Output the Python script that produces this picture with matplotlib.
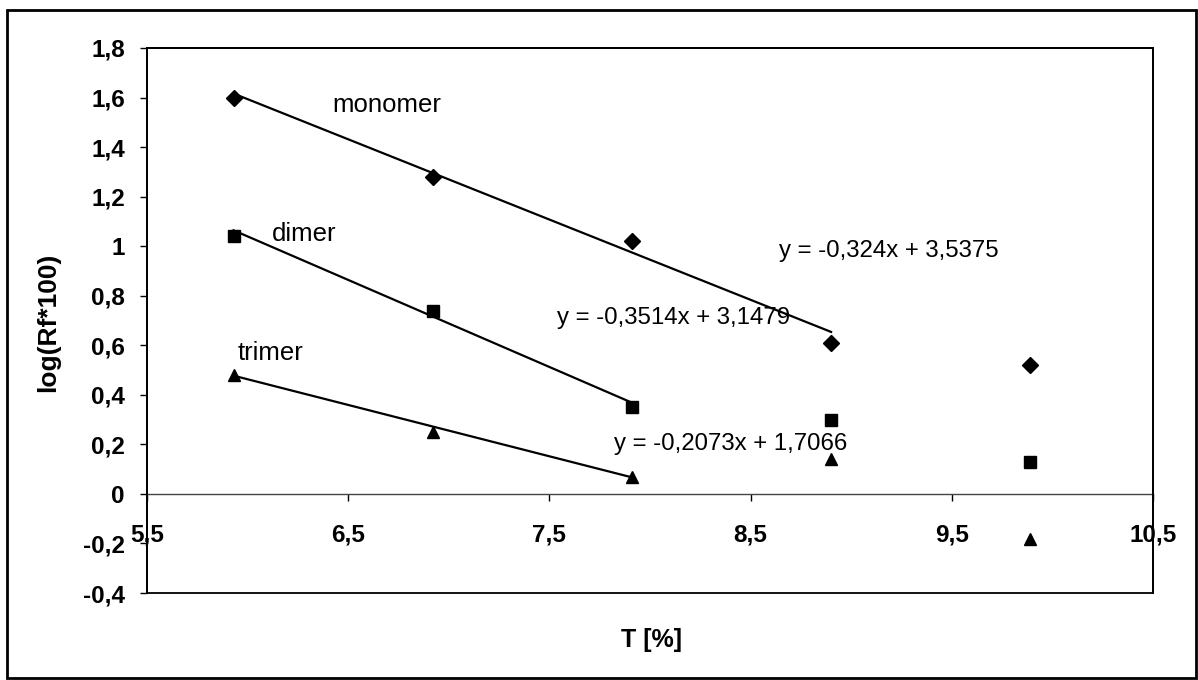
import matplotlib
matplotlib.use("Agg")
import matplotlib.pyplot as plt
from matplotlib.patches import Rectangle
from matplotlib.ticker import FuncFormatter, MultipleLocator

plt.rcParams["font.family"] = ["Liberation Sans", "DejaVu Sans"]

# Gel concentration T [%] and log(Rf*100) per band
t_pct = [5.93, 6.92, 7.91, 8.90, 9.89]
monomer = [1.60, 1.28, 1.02, 0.61, 0.52]
dimer = [1.04, 0.74, 0.35, 0.30, 0.13]
trimer = [0.48, 0.25, 0.07, 0.14, -0.18]

# Linear fits (slope, intercept) and the number of points used for each
fit_monomer = (-0.324, 3.5375, 4)
fit_dimer = (-0.3514, 3.1479, 3)
fit_trimer = (-0.2073, 1.7066, 3)

INK = "black"


def fmt_comma(v, _pos):
    s = f"{v:.1f}".rstrip("0").rstrip(".")
    if s in ("-0", ""):
        s = "0"
    return s.replace(".", ",")


def fit_label(slope, intercept):
    return f"y = {slope:g}x + {intercept:g}".replace(".", ",")


fig = plt.figure(figsize=(11.98, 6.8), dpi=100)
fig.patch.set_facecolor("white")

# Outer chart frame
fig.patches.append(Rectangle((7 / 1198, 2 / 680), 1189 / 1198, 668 / 680,
                             transform=fig.transFigure, fill=False,
                             edgecolor=INK, linewidth=2))

ax = fig.add_axes([147 / 1198, 87 / 680, 1006 / 1198, 545 / 680])
ax.set_xlim(5.5, 10.5)
ax.set_ylim(-0.4, 1.8)

series = [
    (monomer, "D", 8, fit_monomer),
    (dimer, "s", 8, fit_dimer),
    (trimer, "^", 9, fit_trimer),
]
for ys, marker, ms, (slope, intercept, n) in series:
    ax.plot(t_pct, ys, linestyle="none", marker=marker, markersize=ms,
            color=INK, zorder=3)
    x0, x1 = t_pct[0], t_pct[n - 1]
    ax.plot([x0, x1], [slope * x0 + intercept, slope * x1 + intercept],
            color=INK, linewidth=1.6, zorder=2)

# Band names and fit equations
ax.text(6.42, 1.57, "monomer", fontsize=18.5, va="center", ha="left")
ax.text(6.12, 1.05, "dimer", fontsize=18.5, va="center", ha="left")
ax.text(5.95, 0.57, "trimer", fontsize=18.5, va="center", ha="left")
ax.text(8.64, 0.98, fit_label(*fit_monomer[:2]), fontsize=17.3, va="center")
ax.text(7.54, 0.71, fit_label(*fit_dimer[:2]), fontsize=17.3, va="center")
ax.text(7.82, 0.20, fit_label(*fit_trimer[:2]), fontsize=17.3, va="center")

# Plot area box, x axis crossing at y = 0
for side in ("left", "right", "top"):
    ax.spines[side].set_color(INK)
    ax.spines[side].set_linewidth(1.3)
ax.spines["bottom"].set_position(("data", 0))
ax.spines["bottom"].set_color("#444444")
ax.spines["bottom"].set_linewidth(1.0)
ax.add_patch(Rectangle((0, 0), 1, 1, transform=ax.transAxes, fill=False,
                       edgecolor=INK, linewidth=1.3, zorder=5, clip_on=False))

ax.set_xticks([5.5, 6.5, 7.5, 8.5, 9.5, 10.5])
ax.yaxis.set_major_locator(MultipleLocator(0.2))
ax.xaxis.set_major_formatter(FuncFormatter(fmt_comma))
ax.yaxis.set_major_formatter(FuncFormatter(fmt_comma))
ax.tick_params(axis="x", direction="out", length=5, width=1, pad=16,
               labelsize=17.5)
ax.tick_params(axis="y", direction="out", length=5, width=1, pad=11,
               labelsize=17.5)
for lbl in ax.get_xticklabels() + ax.get_yticklabels():
    lbl.set_fontweight("bold")

fig.text(48 / 1198, 1 - 322 / 680, "log(Rf*100)", rotation=90, fontsize=19,
         fontweight="bold", ha="center", va="center")
fig.text(651 / 1198, 1 - 640 / 680, "T [%]", fontsize=18, fontweight="bold",
         ha="center", va="center",
         family=["Liberation Sans Narrow", "Liberation Sans"])

fig.savefig("out.png", dpi=100, facecolor="white")
